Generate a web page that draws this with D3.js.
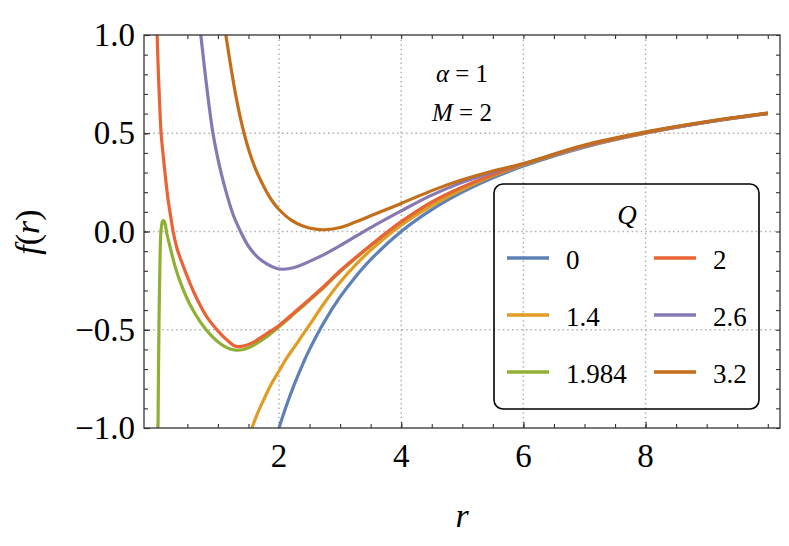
<!DOCTYPE html>
<html>
<head>
<meta charset="utf-8">
<script src="https://cdn.jsdelivr.net/npm/d3@7"></script>
<style>
body { margin: 0; background: #fff; }
svg { display: block; }
</style>
</head>
<body>
<script>
const w = 789;
const h = 546;
const serif = "'Liberation Serif'";

// legend labels and colours, in drawing order
const qLabels = ["0", "1.4", "1.984", "2", "2.6", "3.2"];
const qColors = ["#5E81B5", "#E19C24", "#8FB032", "#EB6235", "#8778B3", "#C56E1A"];

// points, r and f(r) for each Q
const rQ0 = [1.96, 2.0, 2.1, 2.25, 2.4, 2.5, 2.75, 3, 3.25, 3.5, 4, 4.5, 5, 5.5, 6, 7, 8, 9, 10];
const fQ0 = [-1.04, -1.0, -0.905, -0.778, -0.667, -0.6, -0.455, -0.333, -0.231, -0.143, 0, 0.111, 0.2, 0.273, 0.333, 0.429, 0.5, 0.556, 0.6];

const rQ14 = [1.5, 1.55, 1.65, 1.75, 1.87, 2.0, 2.12, 2.25, 2.5, 2.75, 3.0, 3.25, 3.5, 4, 4.5, 5, 5.5, 6, 7, 8, 9, 10];
const fQ14 = [-1.057, -1.006, -0.924, -0.856, -0.779, -0.71, -0.647, -0.588, -0.475, -0.36, -0.258, -0.171, -0.095, 0.032, 0.132, 0.214, 0.283, 0.34, 0.433, 0.502, 0.557, 0.601];

const rQ1984 = [0.018, 0.022, 0.027, 0.035, 0.045, 0.055, 0.065, 0.078, 0.092, 0.11, 0.13, 0.163, 0.229, 0.30, 0.392, 0.5, 0.6, 0.7, 0.8, 0.9, 1.0, 1.1, 1.2, 1.3, 1.4, 1.5, 1.6, 1.8, 2.0, 2.25, 2.5, 2.75, 3.0, 3.5, 4, 4.5, 5, 5.5, 6, 7, 8, 9, 10];
const fQ1984 = [-1.08, -0.9, -0.72, -0.48, -0.26, -0.1, -0.01, 0.03, 0.05, 0.055, 0.045, -0.009, -0.094, -0.179, -0.264, -0.345, -0.405, -0.455, -0.497, -0.532, -0.561, -0.583, -0.598, -0.604, -0.602, -0.592, -0.576, -0.535, -0.485, -0.418, -0.35, -0.28, -0.205, -0.073, 0.048, 0.149, 0.225, 0.288, 0.341, 0.434, 0.503, 0.557, 0.601];

const rQ2 = [0.002, 0.005, 0.018, 0.032, 0.05, 0.07, 0.1, 0.14, 0.185, 0.23, 0.272, 0.338, 0.436, 0.545, 0.665, 0.83, 1.04, 1.15, 1.25, 1.32, 1.45, 1.6, 1.8, 2.0, 2.25, 2.5, 2.75, 3.0, 3.5, 4, 4.5, 5, 5.5, 6, 7, 8, 9, 10];
const fQ2 = [1.03, 1.0, 0.87, 0.754, 0.62, 0.5, 0.40, 0.28, 0.16, 0.07, -0.009, -0.094, -0.179, -0.265, -0.348, -0.44, -0.52, -0.553, -0.578, -0.586, -0.58, -0.56, -0.52, -0.478, -0.412, -0.345, -0.275, -0.2, -0.07, 0.05, 0.15, 0.226, 0.289, 0.342, 0.434, 0.503, 0.557, 0.601];

const rQ26 = [0.68, 0.72, 0.8, 0.91, 1.0, 1.1, 1.25, 1.37, 1.5, 1.65, 1.8, 1.95, 2.07, 2.25, 2.5, 2.75, 3.0, 3.5, 4, 4.5, 5, 5.5, 6, 7, 8, 9, 10];
const fQ26 = [1.11, 1.0, 0.78, 0.517, 0.37, 0.24, 0.085, 0.0, -0.075, -0.13, -0.165, -0.187, -0.192, -0.183, -0.152, -0.115, -0.072, 0.02, 0.105, 0.185, 0.25, 0.302, 0.345, 0.437, 0.505, 0.558, 0.602];

const rQ32 = [1.1, 1.13, 1.2, 1.3, 1.4, 1.5, 1.6, 1.7, 1.8, 1.9, 2.0, 2.2, 2.4, 2.6, 2.75, 3.0, 3.25, 3.5, 4, 4.5, 5, 5.5, 6, 7, 8, 9, 10];
const fQ32 = [1.06, 1.0, 0.86, 0.68, 0.535, 0.42, 0.33, 0.26, 0.2, 0.15, 0.112, 0.058, 0.027, 0.012, 0.009, 0.02, 0.048, 0.08, 0.143, 0.208, 0.263, 0.308, 0.346, 0.44, 0.507, 0.56, 0.603];

const rSeries = [rQ0, rQ14, rQ1984, rQ2, rQ26, rQ32];
const fSeries = [fQ0, fQ14, fQ1984, fQ2, fQ26, fQ32];

// ticks
const xMajor = [2, 4, 6, 8];
const xMinor = d3.range(0, 21).map(i => i / 2);
const yMajor = [-1, -0.5, 0, 0.5, 1];
const yMinor = d3.range(-10, 11).map(i => i / 10);
const xGrid = [2, 4, 6, 8];
const yGrid = [-0.5, 0, 0.5];

const pLeft = 144, pRight = 780, pTop = 35, pBottom = 428;

const x = d3.scaleLinear().domain([-0.21, 10.2]).range([pLeft, pRight]);
const y = d3.scaleLinear().domain([-1, 1]).range([pBottom, pTop]);

const svg = d3.select('body').append('svg').attr('width', w).attr('height', h);

svg.append('clipPath').attr('id', 'plot')
    .append('rect')
    .attr('x', pLeft).attr('y', pTop)
    .attr('width', pRight - pLeft).attr('height', pBottom - pTop);

// grid
const grid = svg.append('g')
    .attr('stroke', '#b0b0b0')
    .attr('stroke-width', 1.5)
    .attr('stroke-dasharray', '1.5 3.1');
grid.selectAll('.gx').data(xGrid).enter().append('line')
    .attr('x1', d => x(d)).attr('x2', d => x(d))
    .attr('y1', pTop).attr('y2', pBottom);
grid.selectAll('.gy').data(yGrid).enter().append('line')
    .attr('x1', pLeft).attr('x2', pRight)
    .attr('y1', d => y(d)).attr('y2', d => y(d));

// axes: ticks on all four sides, no labels from the axis itself
function styleAxis(g) {
    g.select('.domain').remove();
    g.selectAll('.tick line').attr('stroke', '#333').attr('stroke-width', 1.1);
}

svg.append('g').attr('transform', `translate(0,${pBottom})`)
    .call(d3.axisBottom(x).tickValues(xMinor).tickSize(-4).tickFormat(''))
    .call(styleAxis);
svg.append('g').attr('transform', `translate(0,${pTop})`)
    .call(d3.axisTop(x).tickValues(xMinor).tickSize(-4).tickFormat(''))
    .call(styleAxis);
svg.append('g').attr('transform', `translate(${pLeft},0)`)
    .call(d3.axisLeft(y).tickValues(yMinor).tickSize(-4).tickFormat(''))
    .call(styleAxis);
svg.append('g').attr('transform', `translate(${pRight},0)`)
    .call(d3.axisRight(y).tickValues(yMinor).tickSize(-4).tickFormat(''))
    .call(styleAxis);
svg.append('g').attr('transform', `translate(0,${pBottom})`)
    .call(d3.axisBottom(x).tickValues(xMajor).tickSize(-6).tickFormat(''))
    .call(styleAxis);
svg.append('g').attr('transform', `translate(${pLeft},0)`)
    .call(d3.axisLeft(y).tickValues(yMajor).tickSize(-6).tickFormat(''))
    .call(styleAxis);

// curves
const line = d3.line()
    .x(d => x(d[0]))
    .y(d => y(d[1]))
    .curve(d3.curveCatmullRom.alpha(0.5));

svg.append('g').attr('clip-path', 'url(#plot)')
    .selectAll('path')
    .data(rSeries.map((rs, i) => rs.map((r, j) => [r, fSeries[i][j]])))
    .enter()
    .append('path')
    .attr('d', line)
    .attr('fill', 'none')
    .attr('stroke', (d, i) => qColors[i])
    .attr('stroke-width', 3.2)
    .attr('stroke-linejoin', 'round');

// frame
svg.append('rect')
    .attr('x', pLeft).attr('y', pTop)
    .attr('width', pRight - pLeft).attr('height', pBottom - pTop)
    .attr('fill', 'none')
    .attr('stroke', '#333')
    .attr('stroke-width', 1.3);

// legend box and swatches
const rowY = [258, 315, 372];
const colX = [507, 654];
svg.append('rect')
    .attr('x', 494).attr('y', 184)
    .attr('width', 265).attr('height', 225)
    .attr('rx', 9)
    .attr('fill', 'none')
    .attr('stroke', '#000')
    .attr('stroke-width', 1.6);
svg.selectAll('.swatch')
    .data(qLabels)
    .enter()
    .append('line')
    .attr('x1', (d, i) => colX[Math.floor(i / 3)])
    .attr('x2', (d, i) => colX[Math.floor(i / 3)] + 42)
    .attr('y1', (d, i) => rowY[i % 3])
    .attr('y2', (d, i) => rowY[i % 3])
    .attr('stroke', (d, i) => qColors[i])
    .attr('stroke-width', 3.5);

// every text as a flat list, drawn straight onto the svg
const labels = [];
xMajor.forEach(v => labels.push({t: [[String(v)]], x: x(v), y: pBottom + 39, s: 33, a: 'middle'}));
yMajor.forEach(v => labels.push({t: [[(v < 0 ? '\u2212' : '') + Math.abs(v).toFixed(1)]], x: pLeft - 9, y: y(v) + 11, s: 33, a: 'end'}));
labels.push({t: [['\u03b1', 1], [' = 1']], x: 462, y: 82, s: 25, a: 'middle'});
labels.push({t: [['M', 1], [' = 2']], x: 462, y: 121, s: 25, a: 'middle'});
labels.push({t: [['Q', 1]], x: 627, y: 224, s: 27, a: 'middle'});
qLabels.forEach((q, i) => labels.push({t: [[q]], x: colX[Math.floor(i / 3)] + 59, y: rowY[i % 3] + 11, s: 27, a: 'start'}));
labels.push({t: [['r', 1]], x: 462, y: 527, s: 34, a: 'middle'});
labels.push({t: [['f', 1], ['('], ['r', 1], [')']], x: 39, y: 232, s: 34, a: 'middle', rot: true});

const texts = svg.selectAll('.lbl')
    .data(labels)
    .enter()
    .append('text')
    .attr('x', d => d.rot ? 0 : d.x)
    .attr('y', d => d.rot ? 0 : d.y)
    .attr('transform', d => d.rot ? `translate(${d.x},${d.y}) rotate(-90)` : null)
    .attr('font-size', d => d.s)
    .attr('text-anchor', d => d.a)
    .attr('fill', '#000')
    .style('font-family', d => serif);
texts.selectAll('tspan')
    .data(d => d.t)
    .enter()
    .append('tspan')
    .style('font-style', p => p[1] ? 'italic' : 'normal')
    .text(p => p[0]);
</script>
</body>
</html>
